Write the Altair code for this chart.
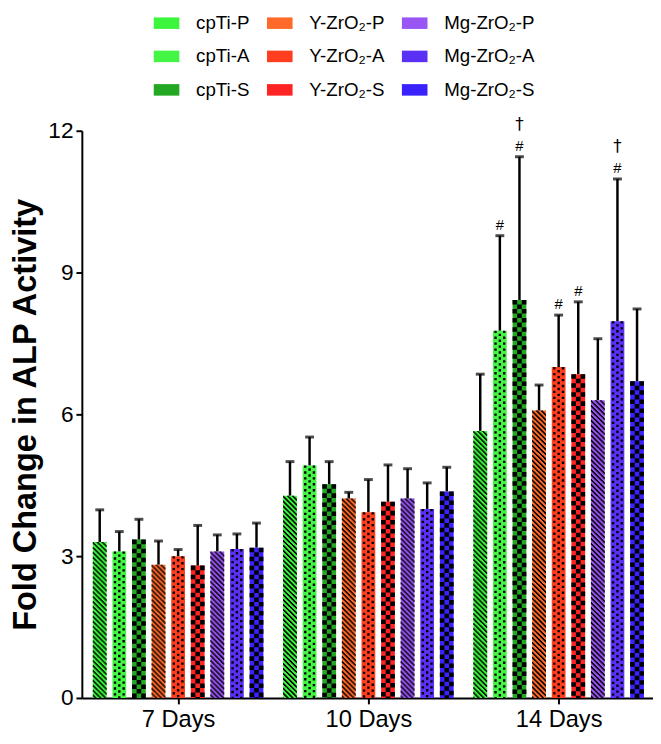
import json
import altair as alt
import pandas as pd

# ---------------- data ----------------
days = ["7 Days", "10 Days", "14 Days"]
groups = ["cpTi-P", "cpTi-A", "cpTi-S",
          "Y-ZrO₂-P", "Y-ZrO₂-A", "Y-ZrO₂-S",
          "Mg-ZrO₂-P", "Mg-ZrO₂-A", "Mg-ZrO₂-S"]
patterns = ["P", "A", "S", "P", "A", "S", "P", "A", "S"]
colors = ["#3cf53c", "#45f545", "#24a824",
          "#ff6a2a", "#ff3d1f", "#ff2424",
          "#9a55f5", "#5a30f5", "#3a22ff"]

mean_7 = [3.30, 3.10, 3.35, 2.82, 3.00, 2.80, 3.10, 3.15, 3.18]
upper_7 = [3.98, 3.52, 3.78, 3.32, 3.14, 3.65, 3.45, 3.47, 3.70]
mean_10 = [4.28, 4.92, 4.52, 4.22, 3.93, 4.15, 4.22, 4.00, 4.37]
upper_10 = [5.00, 5.52, 5.00, 4.35, 4.62, 4.93, 4.85, 4.55, 4.88]
mean_14 = [5.65, 7.77, 8.42, 6.08, 7.00, 6.85, 6.30, 7.97, 6.70]
upper_14 = [6.85, 9.78, 11.45, 6.62, 8.10, 8.38, 7.60, 10.98, 8.23]
hash_14 = ["", "#", "#", "", "#", "#", "", "#", ""]
dagger_14 = ["", "", "†", "", "", "", "", "†", ""]

means = [mean_7, mean_10, mean_14]
uppers = [upper_7, upper_10, upper_14]
hashes = [[""] * 9, [""] * 9, hash_14]
daggers = [[""] * 9, [""] * 9, dagger_14]

rows = []
for d, day in enumerate(days):
    for g, grp in enumerate(groups):
        rows.append({"day": day, "day_idx": d, "group": grp, "g_idx": g,
                     "pattern": patterns[g], "mean": means[d][g],
                     "upper": uppers[d][g], "hash": hashes[d][g],
                     "dagger": daggers[d][g]})
df = pd.DataFrame(rows)

FONT = "Liberation Sans"
BAR_W = 14
STEP = 0.103
# legend swatch: 26 x 12 px rectangle drawn with a small nominal symbol size
RECT = "M-1,-0.9H3V0.9H-1Z"

base = alt.Chart(df).transform_calculate(
    pos=f"datum.day_idx + (datum.g_idx - 4) * {STEP}"
)

xscale = alt.Scale(domain=[-0.48, 2.47], nice=False, zero=False)
yscale = alt.Scale(domain=[0, 12], nice=False)

label_expr = json.dumps(days) + "[datum.value]"

bars = base.mark_bar(orient="vertical", width=BAR_W).encode(
    x=alt.X("pos:Q", scale=xscale,
            axis=alt.Axis(values=[0, 1, 2], labelExpr=label_expr, title=None,
                          grid=False, tickSize=6, tickWidth=2, domainWidth=2,
                          domainColor="black", tickColor="black",
                          labelFontSize=24, labelFont=FONT, labelColor="black",
                          labelPadding=4)),
    y=alt.Y("mean:Q", scale=yscale,
            axis=alt.Axis(values=[0, 3, 6, 9, 12], title="Fold Change in ALP Activity",
                          titleFontSize=33, titleFontWeight="bold", titleFont=FONT,
                          titleColor="black", titlePadding=5, grid=False,
                          tickSize=6, tickWidth=2, domainWidth=2,
                          domainColor="black", tickColor="black",
                          labelFontSize=23, labelFont=FONT, labelColor="black",
                          labelPadding=3)),
    y2=alt.datum(0),
    color=alt.Color("group:N",
                    scale=alt.Scale(domain=groups, range=colors),
                    legend=alt.Legend(orient="none", legendX=70, legendY=-119,
                                      columns=3, direction="vertical", title=None,
                                      symbolType=RECT,
                                      symbolSize=169, symbolStrokeWidth=0,
                                      labelFontSize=19, labelFont=FONT,
                                      labelColor="black", labelOffset=27,
                                      rowPadding=14, columnPadding=14)),
)

layers = [bars]

def pattern_layer(pat, x_off, width, dash, dash_off):
    return base.transform_filter(f"datum.pattern == '{pat}'").mark_rule(
        xOffset=x_off, strokeWidth=width, strokeDash=dash,
        strokeDashOffset=dash_off, color="black", strokeCap="butt",
    ).encode(x=alt.X("pos:Q", scale=xscale), y=alt.Y("mean:Q", scale=yscale),
             y2=alt.datum(0))

# diagonal stripes "\\\" for P : 14 one-pixel columns, dash phase shifted 1px each
for k in range(14):
    layers.append(pattern_layer("P", k - 6.5, 1.05, [2.2, 2.8], (-k) % 5))
# dots for A
for k, off in zip(range(3), [0, 3, 0]):
    layers.append(pattern_layer("A", (k - 1) * 4.4, 2.4, [2.4, 3.6], off))
# checkerboard for S
sw = BAR_W / 3
for k, off in zip(range(3), [0, 4.6, 0]):
    layers.append(pattern_layer("S", (k - 1) * sw, sw + 0.05, [4.6, 4.6], off))

err = base.mark_rule(color="black", strokeWidth=2.5).encode(
    x=alt.X("pos:Q", scale=xscale), y=alt.Y("mean:Q", scale=yscale), y2="upper:Q")
cap = base.mark_tick(orient="horizontal", color="black", size=9, thickness=3).encode(
    x=alt.X("pos:Q", scale=xscale), y=alt.Y("upper:Q", scale=yscale))
hash_text = base.transform_filter("datum.hash != ''").mark_text(
    dy=-11, fontSize=15, font=FONT, color="black", baseline="middle").encode(
    x=alt.X("pos:Q", scale=xscale), y=alt.Y("upper:Q", scale=yscale), text="hash:N")
dag_text = base.transform_filter("datum.dagger != ''").mark_text(
    dy=-32, fontSize=17, font="DejaVu Sans", color="black", baseline="middle").encode(
    x=alt.X("pos:Q", scale=xscale), y=alt.Y("upper:Q", scale=yscale), text="dagger:N")

layers += [err, cap, hash_text, dag_text]

chart = alt.layer(*layers).properties(
    width=580, height=576,
    padding={"left": 2, "top": 0, "right": 0, "bottom": 0},
).configure_view(stroke=None).configure_legend(symbolType=RECT)

chart.save("out.html", embed_options={"renderer": "svg", "actions": False})
